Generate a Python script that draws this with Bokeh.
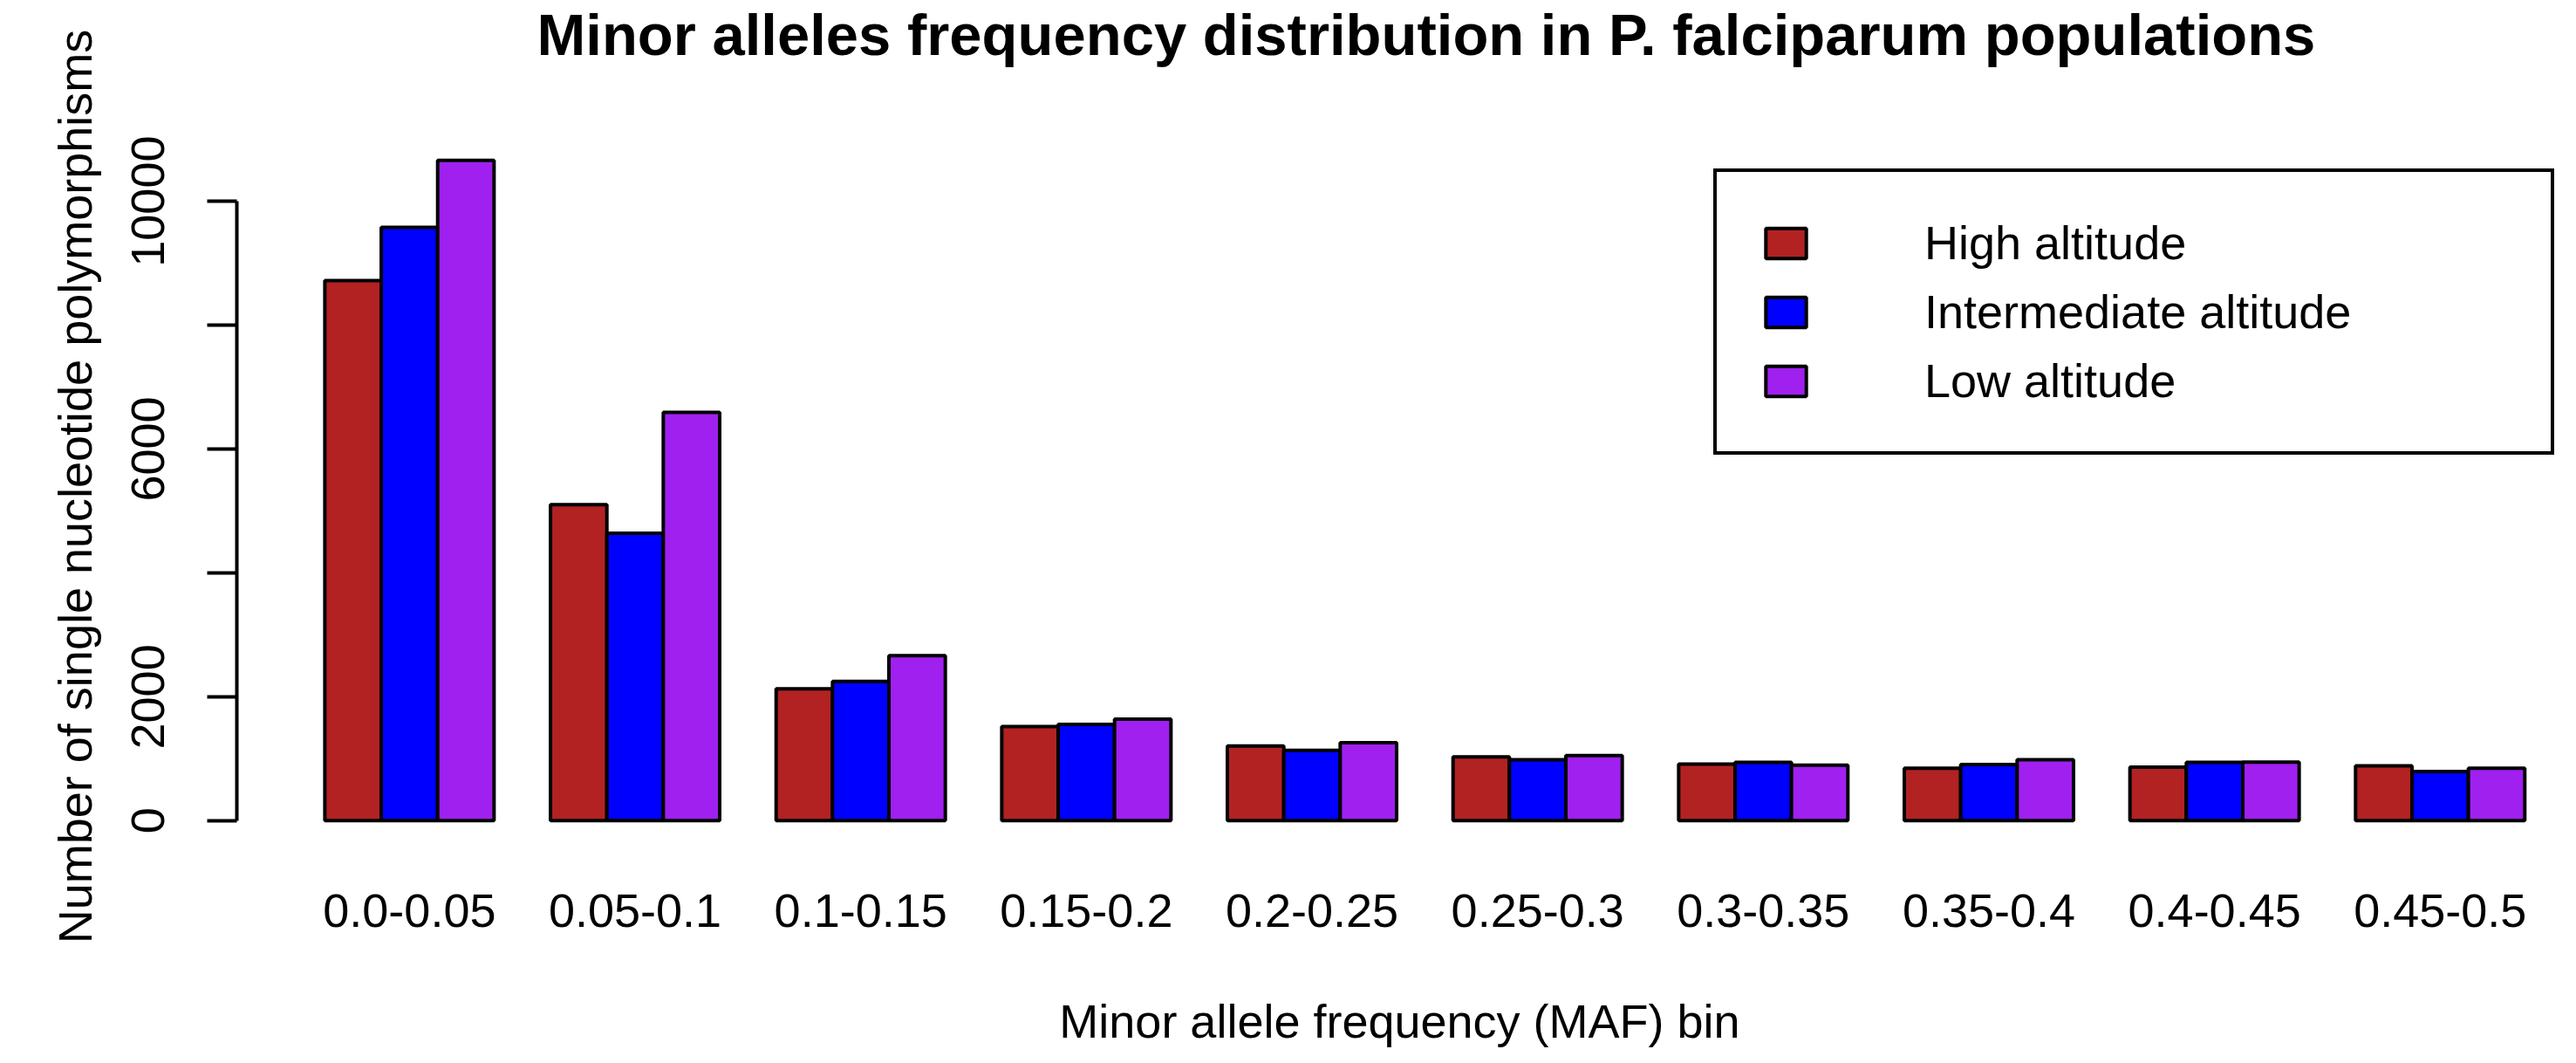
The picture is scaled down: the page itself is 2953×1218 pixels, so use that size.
from bokeh.plotting import figure
from bokeh.models import Range1d, FixedTicker, Legend, LegendItem, ColumnDataSource, Title
from bokeh.transform import dodge
from bokeh.embed import file_html
from bokeh.resources import INLINE

# ---- data -------------------------------------------------------------
bins = ["0.0-0.05", "0.05-0.1", "0.1-0.15", "0.15-0.2", "0.2-0.25",
        "0.25-0.3", "0.3-0.35", "0.35-0.4", "0.4-0.45", "0.45-0.5"]
high_alt = [8720, 5100, 2130, 1520, 1205, 1030, 915, 845, 865, 885]
inter_alt = [9580, 4640, 2250, 1555, 1135, 985, 940, 905, 940, 795]
low_alt = [10660, 6590, 2665, 1640, 1260, 1050, 895, 985, 945, 845]
series_names = ["High altitude", "Intermediate altitude", "Low altitude"]
series_colors = ["#B22222", "#0000FF", "#A020F0"]
y_ticks = [0, 2000, 4000, 6000, 8000, 10000]
y_tick_labels = ["0", "2000", "", "6000", "", "10000"]

FONT = "Liberation Sans"

idx = list(range(len(bins)))
src = ColumnDataSource(dict(x=idx, high=high_alt, inter=inter_alt, low=low_alt))

ymax = max(high_alt + inter_alt + low_alt)

p = figure(width=2937, height=1202, output_backend="svg", toolbar_location=None,
           x_range=Range1d(-0.765, 9.542),
           y_range=Range1d(-0.028 * ymax, 1.04 * ymax),
           min_border_left=271, min_border_right=0, min_border_top=153,
           min_border_bottom=233)

# spacer between title and plot area (closest to the frame)
p.add_layout(Title(text=" ", text_font_size="10px", standoff=61), "above")

p.title.text = "Minor alleles frequency distribution in P. falciparum populations"
p.title.align = "left"
p.title.offset = 344
p.title.vertical_align = "top"
p.title.text_font = FONT
p.title.text_font_size = "67px"
p.title.text_font_style = "bold"
p.title.text_color = "black"
p.title.standoff = 2

renderers = []
for col, off, color in zip(["high", "inter", "low"], [-0.25, 0.0, 0.25], series_colors):
    r = p.vbar(x=dodge("x", off), top=col, bottom=0, width=0.25, source=src,
               fill_color=color, line_color="black", line_width=4)
    renderers.append(r)

# axes
p.xgrid.visible = False
p.ygrid.visible = False
p.outline_line_color = None

xa = p.xaxis[0]
xa.ticker = FixedTicker(ticks=idx)
xa.major_label_overrides = {i: b for i, b in zip(idx, bins)}
xa.axis_line_color = None
xa.major_tick_line_color = None
xa.minor_tick_line_color = None
xa.major_tick_out = 0
xa.major_tick_in = 0
xa.major_label_standoff = 63
xa.major_label_text_font = FONT
xa.major_label_text_font_size = "54px"
xa.major_label_text_color = "black"
xa.axis_label = "Minor allele frequency (MAF) bin"
xa.axis_label_text_font = FONT
xa.axis_label_text_font_size = "54px"
xa.axis_label_text_font_style = "normal"
xa.axis_label_text_color = "black"
xa.axis_label_standoff = 75

ya = p.yaxis[0]
ya.ticker = FixedTicker(ticks=y_ticks)
ya.major_label_overrides = {t: l for t, l in zip(y_ticks, y_tick_labels)}
ya.bounds = (y_ticks[0], y_ticks[-1])
ya.axis_line_color = "black"
ya.axis_line_width = 4
ya.major_tick_line_color = "black"
ya.major_tick_line_width = 4
ya.major_tick_out = 34
ya.major_tick_in = 0
ya.minor_tick_line_color = None
ya.major_label_orientation = "vertical"
ya.major_label_standoff = 49
ya.major_label_text_font = FONT
ya.major_label_text_font_size = "54px"
ya.major_label_text_color = "black"
ya.axis_label = "Number of single nucleotide polymorphisms"
ya.axis_label_text_font = FONT
ya.axis_label_text_font_size = "54px"
ya.axis_label_text_font_style = "normal"
ya.axis_label_text_color = "black"
ya.axis_label_standoff = 33

legend = Legend(items=[LegendItem(label=n, renderers=[r]) for n, r in zip(series_names, renderers)],
                location=(1693, 440), orientation="vertical",
                glyph_width=58, glyph_height=43, label_standoff=130,
                padding=50, spacing=17, margin=0, label_width=668,
                label_text_font=FONT, label_text_font_size="54px", label_text_color="black",
                border_line_color="black", border_line_width=4, border_line_alpha=1.0,
                background_fill_color="white", background_fill_alpha=1.0)
p.add_layout(legend, "center")

open("out.html", "w").write(file_html(p, INLINE))
